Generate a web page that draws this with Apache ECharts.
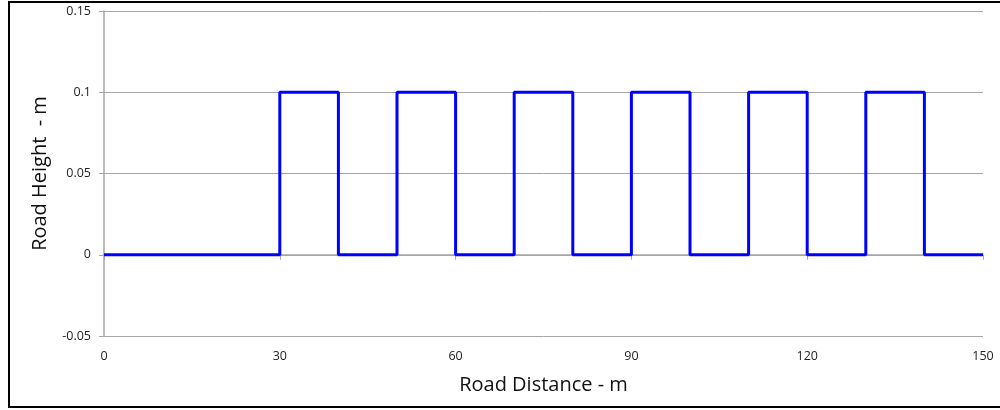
<!DOCTYPE html>
<html>
<head>
<meta charset="utf-8">
<script src="https://cdn.jsdelivr.net/npm/echarts@6/dist/echarts.min.js"></script>
<style>
html,body{margin:0;padding:0;background:#fff;}
#c{width:1000px;height:410px;}
</style>
</head>
<body>
<div id="c"></div>
<script>
// Road profile (step wave) — distance (m) and height (m)
const distance = [0,30,30,40,40,50,50,60,60,70,70,80,80,90,90,100,100,110,110,120,120,130,130,140,140,150];
const height   = [0,0,0.1,0.1,0,0,0.1,0.1,0,0,0.1,0.1,0,0,0.1,0.1,0,0,0.1,0.1,0,0,0.1,0.1,0,0];
const xTitle = 'Road Distance - m';
const yTitle = 'Road Height  - m';

const chart = echarts.init(document.getElementById('c'), null, {renderer:'canvas'});
const font = 'Open Sans, Liberation Sans, sans-serif';
chart.setOption({
  animation:false,
  grid:{left:104,right:17,top:11,bottom:74,containLabel:false},
  graphic:[{type:'rect',shape:{x:9,y:2,width:1000,height:405},style:{fill:null,stroke:'#000',lineWidth:2},silent:true,z:-1}],
  xAxis:{
    type:'value',min:0,max:150,interval:30,
    name:xTitle,nameLocation:'middle',nameGap:39,
    nameTextStyle:{fontSize:20,color:'#111',fontFamily:font},
    axisLine:{show:true,lineStyle:{color:'#a6a6a6',width:1.5}},
    axisTick:{show:true,length:5,lineStyle:{color:'#a6a6a6'}},
    axisLabel:{fontSize:12.5,color:'#222',margin:14,fontFamily:font},
    splitLine:{show:false}
  },
  yAxis:{
    type:'value',min:-0.05,max:0.15,interval:0.05,
    name:yTitle,nameLocation:'middle',nameGap:54,
    nameTextStyle:{fontSize:20,color:'#111',fontFamily:font},
    axisLine:{show:true,lineStyle:{color:'#a6a6a6',width:1.5}},
    axisTick:{show:true,length:5,lineStyle:{color:'#a6a6a6'}},
    axisLabel:{fontSize:12.5,color:'#222',margin:13,fontFamily:font,
      formatter:v=>String(Math.round(v*100)/100)},
    splitLine:{show:true,lineStyle:{color:'#a6a6a6',width:1}}
  },
  series:[{
    type:'line',
    data:distance.map((d,i)=>[d,height[i]]),
    showSymbol:false,
    lineStyle:{color:'#0000ff',width:3},
    itemStyle:{color:'#0000ff'}
  }]
});
</script>
</body>
</html>
